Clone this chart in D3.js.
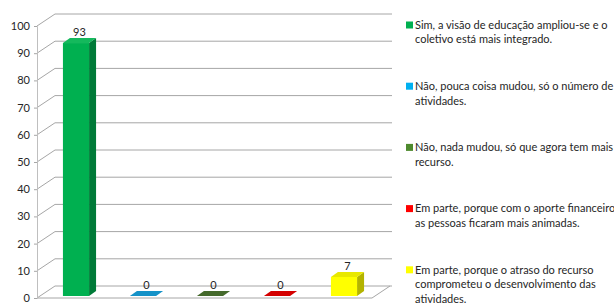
<!DOCTYPE html>
<html>
<head>
<meta charset="utf-8">
<script src="https://cdn.jsdelivr.net/npm/d3@7"></script>
<style>
  body { margin: 0; background: #fff; }
  svg { display: block; }
</style>
</head>
<body>
<div id="chart"></div>
<script>
// data
var categories = ['sim', 'nao_pouca', 'nao_nada', 'parte_aporte', 'parte_atraso']
var values = [93, 0, 0, 0, 7]
var yTicks = [0, 10, 20, 30, 40, 50, 60, 70, 80, 90, 100]
var legendLines = [
    ['Sim, a visão de educação ampliou-se e o', 'coletivo está mais integrado.'],
    ['Não, pouca coisa mudou, só o número de', 'atividades.'],
    ['Não, nada mudou, só que agora tem mais', 'recurso.'],
    ['Em parte, porque com o aporte financeiro,', 'as pessoas ficaram mais animadas.'],
    ['Em parte, porque o atraso do recurso', 'comprometeu o desenvolvimento das', 'atividades.']
]

// colours: front, side, top, legend
var colors = [
    {front: '#00b050', side: '#007a38', top: '#14b95c', legend: '#00b050'},
    {front: '#0f8fc4', side: '#0a6a94', top: '#1492c8', legend: '#00b0f0'},
    {front: '#3f6327', side: '#2c471b', top: '#44692b', legend: '#4e8a2e'},
    {front: '#c00000', side: '#8a0000', top: '#d40000', legend: '#ff0000'},
    {front: '#ffff00', side: '#b3b300', top: '#e8e800', legend: '#ffff00'}
]

var size = ({width: 614, height: 304})
var plot = ({left: 37, right: 372, bottom: 298, top: 26})
var depth = ({dx: 18, dy: -12})     // floor / wall depth
var bar = ({ox: 5.5, oy: -2, dx: 7, dy: -5})   // bar position inside the depth

const svg = d3.select('#chart')
    .append('svg')
    .attr('width', size.width)
    .attr('height', size.height)
    .style('font-family', 'Lato, "Open Sans", sans-serif')

var y = d3.scaleLinear()
    .domain([0, 100])
    .range([plot.bottom, plot.top])

var x = d3.scaleBand()
    .domain(categories)
    .range([plot.left, plot.right])
    .paddingInner(0.61)
    .paddingOuter(0.305)

// back wall gridlines + left wall diagonals
var grid = svg.append('g')
    .attr('stroke', '#a6a6a6')
    .attr('stroke-width', 1)
    .attr('fill', 'none')

grid.selectAll('line.back')
    .data(yTicks)
    .join('line')
        .attr('class', 'back')
        .attr('x1', plot.left + depth.dx)
        .attr('x2', plot.right + depth.dx + 2)
        .attr('y1', d => y(d) + depth.dy)
        .attr('y2', d => y(d) + depth.dy)

grid.selectAll('line.diag')
    .data(yTicks)
    .join('line')
        .attr('class', 'diag')
        .attr('x1', plot.left)
        .attr('x2', plot.left + depth.dx)
        .attr('y1', d => y(d))
        .attr('y2', d => y(d) + depth.dy)

// floor front edge and right edge
grid.append('path')
    .attr('d', 'M' + plot.left + ',' + y(0) + 'H' + plot.right +
        'L' + (plot.right + depth.dx) + ',' + (y(0) + depth.dy))

// left axis
var yAxis = g => g
    .attr('transform', `translate(${plot.left}, 0)`)
    .call(d3.axisLeft(y).tickValues(yTicks).tickSize(3).tickPadding(4))
    .call(g => g.select('.domain').attr('stroke', '#bfbfbf'))
    .call(g => g.selectAll('.tick line').attr('stroke', '#a6a6a6'))
    .call(g => g.selectAll('.tick text')
        .attr('fill', '#262626')
        .style('font-size', '11px')
        .style('font-family', 'Lato, "Open Sans", sans-serif'))

svg.append('g').call(yAxis)

// 3D bars
var bars = svg.append('g')
    .selectAll('g')
    .data(values)
    .join('g')

function bx(i) { return x(categories[i]) + bar.ox }
function by(v) { return y(v) + bar.oy }

// side
bars.append('path')
    .attr('fill', (d, i) => colors[i].side)
    .attr('d', (d, i) => {
        var x1 = bx(i) + x.bandwidth()
        return 'M' + x1 + ',' + by(d) + 'L' + (x1 + bar.dx) + ',' + (by(d) + bar.dy) +
            'L' + (x1 + bar.dx) + ',' + (by(0) + bar.dy) + 'L' + x1 + ',' + by(0) + 'Z'
    })

// front
bars.append('rect')
    .attr('fill', (d, i) => colors[i].front)
    .attr('x', (d, i) => bx(i))
    .attr('y', d => by(d))
    .attr('width', x.bandwidth())
    .attr('height', d => by(0) - by(d))

// top
bars.append('path')
    .attr('fill', (d, i) => colors[i].top)
    .attr('d', (d, i) => {
        var x0 = bx(i), x1 = x0 + x.bandwidth()
        return 'M' + x0 + ',' + by(d) + 'L' + x1 + ',' + by(d) +
            'L' + (x1 + bar.dx) + ',' + (by(d) + bar.dy) + 'L' + (x0 + bar.dx) + ',' + (by(d) + bar.dy) + 'Z'
    })

// value labels
bars.append('text')
    .attr('x', (d, i) => bx(i) + x.bandwidth() / 2 + bar.dx / 2)
    .attr('y', d => by(d) + bar.dy - 2)
    .attr('text-anchor', 'middle')
    .attr('fill', '#262626')
    .style('font-size', '11px')
    .text(d => d)

// legend
var legend = svg.append('g')
    .selectAll('g')
    .data(legendLines)
    .join('g')
        .attr('transform', (d, i) => `translate(406, ${25 + i * 61.2})`)

legend.append('rect')
    .attr('x', 0)
    .attr('y', -3.5)
    .attr('width', 7)
    .attr('height', 7)
    .attr('fill', (d, i) => colors[i].legend)

legend.append('text')
    .attr('fill', '#262626')
    .style('font-size', '11px')
    .selectAll('tspan')
    .data(d => d)
    .join('tspan')
        .attr('x', 9)
        .attr('y', (d, j) => j * 14.5)
        .attr('dy', '0.35em')
        .text(d => d)
</script>
</body>
</html>
